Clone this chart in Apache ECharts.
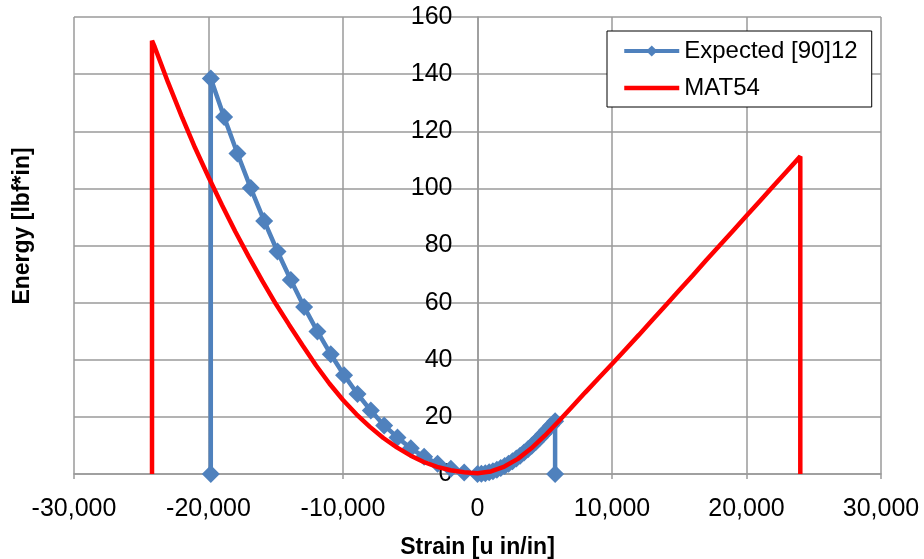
<!DOCTYPE html>
<html>
<head>
<meta charset="utf-8">
<script src="https://cdn.jsdelivr.net/npm/echarts@6/dist/echarts.min.js"></script>
<style>
html,body{margin:0;padding:0;background:#fff;}
#chart{width:924px;height:559px;}
</style>
</head>
<body>
<div id="chart"></div>
<script>
// Expected [90]12 (strain in micro in/in, energy in lbf*in)
var expectedStrain = [-19830, -19830, -18840, -17850, -16860, -15860, -14870, -13880, -12890, -11900, -10910,
  -9920, -8920, -7930, -6940, -5950, -4960, -3970, -2970, -1980, -990, 0,
  290, 580, 870, 1150, 1440, 1730, 2020, 2310, 2600, 2890, 3170, 3460, 3750, 4040, 4330, 4620, 4900, 5190, 5480, 5770, 5770];
var expectedEnergy = [0, 138.5, 125.0, 112.2, 100.1, 88.6, 77.9, 67.9, 58.5, 49.9, 41.9,
  34.6, 28.0, 22.2, 17.0, 12.8, 9.0, 6.0, 3.6, 1.8, 0.5, 0,
  0.1, 0.3, 0.6, 1.0, 1.5, 2.1, 2.8, 3.6, 4.5, 5.4, 6.4, 7.5, 8.7, 9.9, 11.2, 12.6, 14.0, 15.5, 17.0, 18.5, 0];

// MAT54
var mat54Strain = [-24200, -24200, -24000, -23000, -22000, -21000, -20000, -19000, -18000, -17000, -16000,
  -15000, -14000, -13000, -12000, -11000, -10000, -9000, -8000, -7000, -6000, -5000, -4000, -3000, -2000, -1000, -500, 0,
  1000, 2000, 3000, 4000, 5000, 6000, 7000, 8000, 9000, 10000, 11000, 12000, 13000, 14000, 15000, 16000,
  17000, 18000, 19000, 20000, 21000, 22000, 23000, 24000, 24000];
var mat54Energy = [0, 151.7, 149.5, 137.0, 125.3, 114.2, 104.0, 94.2, 84.8, 76.0, 67.6,
  59.6, 52.2, 45.0, 38.0, 31.6, 25.9, 20.9, 16.5, 12.6, 9.3, 6.5, 4.2, 2.5, 1.3, 0.6, 0.4, 0.3,
  0.9, 2.6, 5.3, 9.0, 13.4, 18.3, 23.4, 28.5, 33.5, 38.5, 43.6, 48.7, 53.9, 59.1, 64.3, 69.5,
  74.8, 80.0, 85.2, 90.4, 95.6, 100.8, 106.0, 111.2, 0];

var xTicks = [-30000, 30000, 10000]; // min, max, interval
var yTicks = [0, 160, 20];
var seriesNames = ['Expected [90]12', 'MAT54'];
var axisTitles = ['Strain [u in/in]', 'Energy [lbf*in]'];

function pairs(xs, ys) { return xs.map(function (x, i) { return [x, ys[i]]; }); }

var FONT = 'Liberation Sans';
var GRID = '#9a9a9a';
var GRID_LEFT = 74, GRID_RIGHT = 43;
var PLOT_W = 924 - GRID_LEFT - GRID_RIGHT;

var chart = echarts.init(document.getElementById('chart'), null, { renderer: 'canvas' });
chart.setOption({
  animation: false,
  backgroundColor: '#fff',
  textStyle: { fontFamily: FONT },
  grid: { left: GRID_LEFT, right: GRID_RIGHT, top: 17, bottom: 85, containLabel: false, outerBoundsMode: 'none' },
  legend: {
    orient: 'vertical',
    left: 607, top: 31,
    padding: [8, 14, 7, 15],
    itemWidth: 55, itemHeight: 14, itemGap: 13,
    borderColor: '#000', borderWidth: 1,
    backgroundColor: '#fff',
    textStyle: { fontFamily: FONT, fontSize: 24, color: '#000' },
    data: [
      { name: seriesNames[0], lineStyle: { width: 4 } },
      { name: seriesNames[1], lineStyle: { width: 4.5 }, itemStyle: { color: 'rgba(0,0,0,0)', borderWidth: 0 } }
    ]
  },
  xAxis: {
    type: 'value',
    min: xTicks[0], max: xTicks[1], interval: xTicks[2],
    name: axisTitles[0],
    nameLocation: 'middle',
    nameGap: 62,
    nameTextStyle: { fontFamily: FONT, fontSize: 23, fontWeight: 'bold', color: '#000' },
    axisLine: { onZero: false, lineStyle: { color: GRID, width: 1.5 } },
    axisTick: { show: true, length: 5, lineStyle: { color: GRID, width: 1.5 } },
    axisLabel: {
      margin: 23, fontFamily: FONT, fontSize: 25, color: '#000',
      formatter: function (v) { return v.toLocaleString('en-US'); }
    },
    splitLine: { show: true, lineStyle: { color: GRID, width: 1.5 } }
  },
  yAxis: {
    type: 'value',
    min: yTicks[0], max: yTicks[1], interval: yTicks[2],
    position: 'left',
    offset: -PLOT_W / 2,
    axisLine: { show: true, onZero: false, lineStyle: { color: GRID, width: 1.5 } },
    axisTick: { show: false },
    axisLabel: { margin: 25, fontFamily: FONT, fontSize: 25, color: '#000' },
    splitLine: { show: true, lineStyle: { color: GRID, width: 1.5 } }
  },
  graphic: [{
    type: 'text',
    x: 23, y: 226,
    rotation: Math.PI / 2,
    style: {
      text: axisTitles[1],
      fontFamily: FONT, fontSize: 23, fontWeight: 'bold', fill: '#000',
      align: 'center', verticalAlign: 'middle'
    }
  }],
  series: [
    {
      name: seriesNames[0],
      type: 'line',
      data: pairs(expectedStrain, expectedEnergy),
      symbol: 'diamond', symbolSize: 18,
      showSymbol: true,
      itemStyle: { color: '#4F81BD' },
      lineStyle: { color: '#4F81BD', width: 4.5 },
      z: 2
    },
    {
      name: seriesNames[1],
      type: 'line',
      data: pairs(mat54Strain, mat54Energy),
      symbol: 'none',
      itemStyle: { color: '#FF0000' },
      lineStyle: { color: '#FF0000', width: 4.5 },
      z: 3
    }
  ]
});
</script>
</body>
</html>
